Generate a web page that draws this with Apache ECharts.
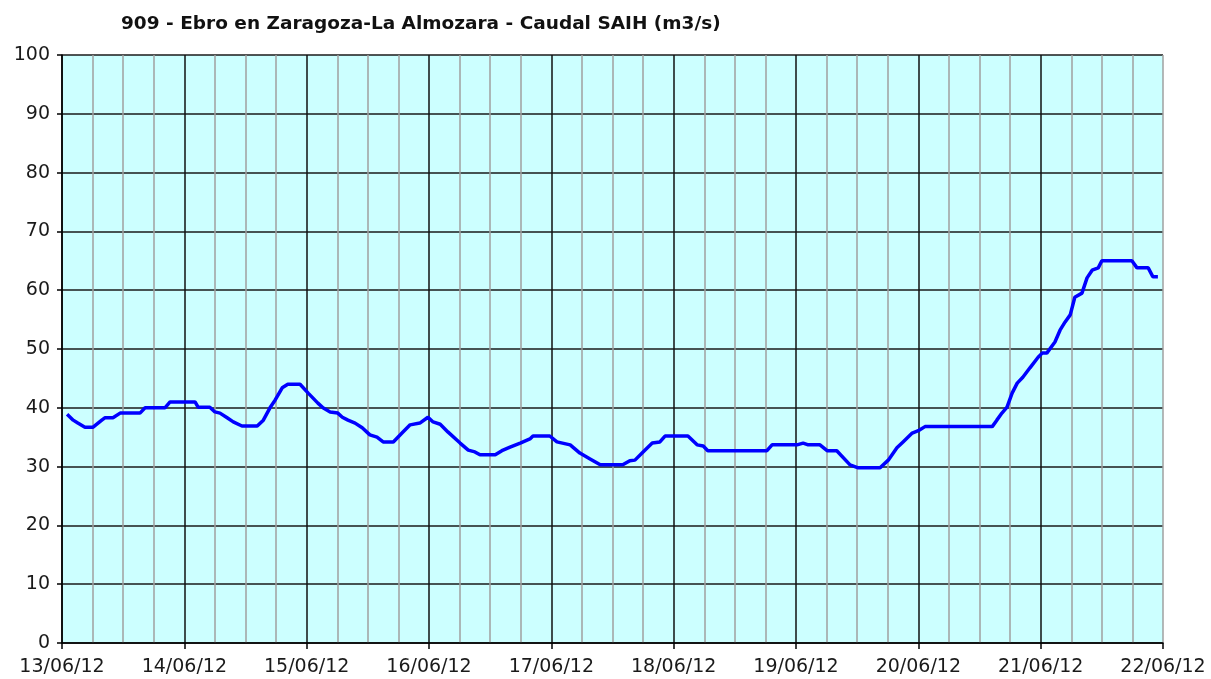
<!DOCTYPE html>
<html>
<head>
<meta charset="utf-8">
<script src="https://cdn.jsdelivr.net/npm/echarts@6/dist/echarts.min.js"></script>
<style>
html,body{margin:0;padding:0;background:#fff;}
#chart{width:1211px;height:679px;}
</style>
</head>
<body>
<div id="chart"></div>
<script>
// Hours since 13/06/12 00:00
var hours = [1.0,2.2,3.1,4.5,6.1,7.8,8.4,10,11.4,15.3,16.3,20.2,21.2,26.1,26.7,29,30,31,32.4,33.6,35.3,38.3,39.5,40.8,41.8,43.2,44.3,46.7,48.3,50.2,51.2,52.6,54.1,55,56.1,57.5,58.9,60.4,61.8,63,65,66.7,68.3,70.2,71.8,72.8,74.2,75.7,78.1,79.7,81,82,85,86.3,87.9,89.9,91.8,92.4,95.7,97.1,99.7,101.6,103.6,105.6,110,111.4,112.4,114,115.8,117.3,118.3,122.8,124.6,125.8,126.7,138.3,139.3,144.2,145.4,146.4,148.7,150.1,152,154.6,156.2,160.5,162.1,163.8,165,166.8,168,169.3,182.5,183.4,184.4,185.4,186.4,187.4,188.5,189.9,191.5,192.3,193.2,194.8,195.8,196.8,197.8,198.7,200.1,201.1,202.1,203.3,204,209.9,210.9,213.1,214,215];
var caudal = [38.9,37.9,37.4,36.7,36.7,37.9,38.3,38.3,39.1,39.1,40.0,40.0,41.0,41.0,40.1,40.1,39.3,39.1,38.3,37.6,36.9,36.9,37.9,40.0,41.3,43.4,44.0,44.0,42.5,40.8,40.0,39.3,39.1,38.4,37.9,37.4,36.6,35.4,35.0,34.2,34.2,35.7,37.1,37.4,38.4,37.6,37.2,35.9,34.0,32.8,32.5,32.0,32.0,32.7,33.3,34.0,34.7,35.2,35.2,34.2,33.7,32.3,31.3,30.3,30.3,31.0,31.1,32.5,34.0,34.2,35.2,35.2,33.7,33.5,32.7,32.7,33.7,33.7,34.0,33.7,33.7,32.7,32.7,30.3,29.8,29.8,31.1,33.2,34.2,35.7,36.1,36.8,36.8,37.9,39.1,40.1,42.5,44.2,45.2,46.8,48.6,49.3,49.3,51.2,53.2,54.6,55.8,58.8,59.5,62.1,63.4,63.8,65.0,65.0,63.8,63.8,62.3,62.3];
var dayLabels = ['13/06/12','14/06/12','15/06/12','16/06/12','17/06/12','18/06/12','19/06/12','20/06/12','21/06/12','22/06/12'];
var titleText = '909 - Ebro en Zaragoza-La Almozara - Caudal SAIH (m3/s)';

var points = hours.map(function(h, i){ return [h, caudal[i]]; });
var font = 'DejaVu Sans, Verdana, sans-serif';

var chart = echarts.init(document.getElementById('chart'), null, {renderer:'canvas'});
chart.setOption({
  animation: false,
  backgroundColor: '#ffffff',
  title: {
    text: titleText,
    left: 116,
    top: 10,
    textStyle: {fontFamily: font, fontSize: 18.5, fontWeight: 'bold', color: '#111'}
  },
  grid: {left: 62, right: 48, top: 55, bottom: 36, show: true, backgroundColor: '#ccffff', borderWidth: 0},
  xAxis: {
    type: 'value', min: 0, max: 216, interval: 24,
    axisLine: {show: true, onZero: false, lineStyle: {color: '#000', width: 1.5}},
    axisTick: {show: true, length: 6, lineStyle: {color: '#000', width: 1.5}},
    axisLabel: {
      margin: 15, fontFamily: font, fontSize: 19, color: '#1a1a1a',
      showMinLabel: true, showMaxLabel: true,
      formatter: function(v){ return dayLabels[Math.round(v/24)]; }
    },
    splitLine: {show: true, lineStyle: {color: ['#111','#111','#111','#111','#111','#111','#111','#111','#111','#a0a0a0'], width: 1.5}},
    minorTick: {show: false, splitNumber: 4},
    minorSplitLine: {show: true, lineStyle: {color: '#a0a0a0', width: 1.5}}
  },
  yAxis: {
    type: 'value', min: 0, max: 100, interval: 10,
    axisLine: {show: true, lineStyle: {color: '#000', width: 1.5}},
    axisTick: {show: true, length: 5, lineStyle: {color: '#000', width: 1.5}},
    axisLabel: {margin: 12, fontFamily: font, fontSize: 19, color: '#1a1a1a'},
    splitLine: {show: true, lineStyle: {color: '#1a1a1a', width: 1.5}}
  },
  series: [{
    type: 'line',
    data: points,
    showSymbol: false,
    symbol: 'none',
    smooth: false,
    lineStyle: {color: '#0000ff', width: 3.5},
    z: 5
  }]
});
</script>
</body>
</html>
